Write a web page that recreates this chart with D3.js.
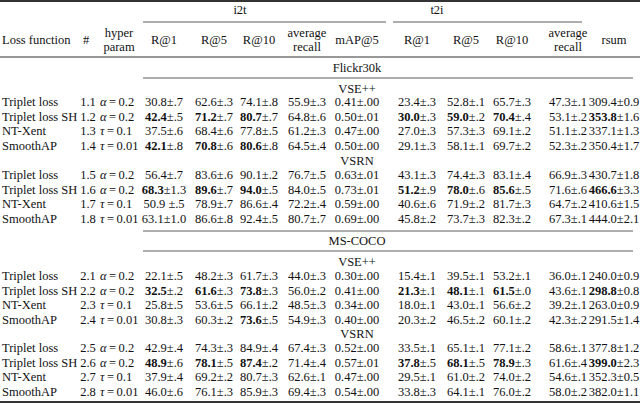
<!DOCTYPE html>
<html>
<head>
<meta charset="utf-8">
<script src="https://cdn.jsdelivr.net/npm/d3@7"></script>
<style>
  body { margin: 0; background: #fff; }
</style>
</head>
<body>
<svg id="table" width="640" height="404" font-family="'Liberation Serif', 'Times New Roman', 'DejaVu Serif', serif" font-size="12.5px" fill="#111"></svg>
<script>
// table data, "*" marks a bold leading number
const lossNames = ["Triplet loss", "Triplet loss SH", "NT-Xent", "SmoothAP"];
const runIds = ["1.1","1.2","1.3","1.4","1.5","1.6","1.7","1.8","2.1","2.2","2.3","2.4","2.5","2.6","2.7","2.8"];
const hyperSym = ["α", "α", "τ", "τ"];
const hyperVal = ["0.2", "0.2", "0.1", "0.01"];

const i2tR1 = ["30.8±.7","*42.4±.5","37.5±.6","*42.1±.8","56.4±.7","*68.3±1.3","50.9 ±.5","63.1±1.0","22.1±.5","*32.5±.2","25.8±.5","30.8±.3","42.9±.4","*48.9±.6","37.9±.4","46.0±.6"];
const i2tR5 = ["62.6±.3","*71.2±.7","68.4±.6","*70.8±.6","83.6±.6","*89.6±.7","78.9±.7","86.6±.8","48.2±.3","*61.6±.3","53.6±.5","60.3±.2","74.3±.3","*78.1±.5","69.2±.2","76.1±.3"];
const i2tR10 = ["74.1±.8","*80.7±.7","77.8±.5","*80.6±.8","90.1±.2","*94.0±.5","86.6±.4","92.4±.5","61.7±.3","*73.8±.3","66.1±.2","*73.6±.5","84.9±.4","*87.4±.2","80.7±.3","85.9±.3"];
const i2tAvg = ["55.9±.3","64.8±.6","61.2±.3","64.5±.4","76.7±.5","84.0±.5","72.2±.4","80.7±.7","44.0±.3","56.0±.2","48.5±.3","54.9±.3","67.4±.3","71.4±.4","62.6±.1","69.4±.3"];
const mapAt5 = ["0.41±.00","0.50±.01","0.47±.00","0.50±.00","0.63±.01","0.73±.01","0.59±.00","0.69±.00","0.30±.00","0.41±.00","0.34±.00","0.40±.00","0.52±.00","0.57±.01","0.47±.00","0.54±.00"];
const t2iR1 = ["23.4±.3","*30.0±.3","27.0±.3","29.1±.3","43.1±.3","*51.2±.9","40.6±.6","45.8±.2","15.4±.1","*21.3±.1","18.0±.1","20.3±.2","33.5±.1","*37.8±.5","29.5±.1","33.8±.3"];
const t2iR5 = ["52.8±.1","*59.0±.2","57.3±.3","58.1±.1","74.4±.3","*78.0±.6","71.9±.2","73.7±.3","39.5±.1","*48.1±.1","43.0±.1","46.5±.2","65.1±.1","*68.1±.5","61.0±.2","64.1±.1"];
const t2iR10 = ["65.7±.3","*70.4±.4","69.1±.2","69.7±.2","83.1±.4","*85.6±.5","81.7±.3","82.3±.2","53.2±.1","*61.5±.0","56.6±.2","60.1±.2","77.1±.2","*78.9±.3","74.0±.2","76.0±.2"];
const t2iAvg = ["47.3±.1","53.1±.2","51.1±.2","52.3±.2","66.9±.3","71.6±.6","64.7±.2","67.3±.1","36.0±.1","43.6±.1","39.2±.1","42.3±.2","58.6±.1","61.6±.4","54.6±.1","58.0±.2"];
const rsum = ["309.4±0.9","*353.8±1.6","337.1±1.3","350.4±1.7","430.7±1.8","*466.6±3.3","410.6±1.5","444.0±2.1","240.0±0.9","*298.8±0.8","263.0±0.9","291.5±1.4","377.8±1.2","*399.0±2.3","352.3±0.5","382.0±1.1"];

const colKeys = ["i2tR1","i2tR5","i2tR10","i2tAvg","mAP","t2iR1","t2iR5","t2iR10","t2iAvg","rsum"];
const colHeads = [["R@1"],["R@5"],["R@10"],["average","recall"],["mAP@5"],["R@1"],["R@5"],["R@10"],["average","recall"],["rsum"]];
const columns = [i2tR1, i2tR5, i2tR10, i2tAvg, mapAt5, t2iR1, t2iR5, t2iR10, t2iAvg, rsum];

const svg = d3.select("#table");
const x = d3.scaleOrdinal().domain(colKeys).range([164, 214, 259, 307, 357, 417, 466, 512, 568, 614]);

// row y: 16 data rows in 4 blocks of 4
const blockTop = [102, 175, 276, 348];
const rowY = i => blockTop[Math.floor(i / 4)] + (i % 4) * 14.6;

// rules
const rule = (x1, x2, y, w) => svg.append("line").attr("x1", x1).attr("x2", x2)
  .attr("y1", y).attr("y2", y).attr("stroke", "#333").attr("stroke-width", w);
rule(0, 640, 1, 2);
rule(143, 386, 22, 0.8);
rule(393, 582, 22, 0.8);
rule(0, 640, 57, 1);
rule(143, 633, 78, 0.8);
rule(143, 633, 231, 0.8);
rule(143, 633, 251, 0.8);
rule(0, 640, 402, 2);

// header
const head = (t, xx, y, anchor) => svg.append("text").attr("x", xx).attr("y", y)
  .attr("text-anchor", anchor || "middle").text(t);
head("i2t", 240, 14);
head("t2i", 437, 14);
head("Loss function", 2, 44, "start");
head("#", 86, 44);
head("hyper", 119, 37);
head("param", 119, 51);
colHeads.forEach((h, j) => {
  if (h.length === 1) head(h[0], x(colKeys[j]), 44);
  else { head(h[0], x(colKeys[j]), 37); head(h[1], x(colKeys[j]), 51); }
});
head("Flickr30k", 357, 72);
head("VSE++", 357, 93);
head("VSRN", 357, 165);
head("MS-COCO", 357, 245);
head("VSE++", 357, 266);
head("VSRN", 357, 338);

// body
d3.range(16).forEach(i => {
  const y = rowY(i) + 4;
  head(lossNames[i % 4], 2, y, "start");
  head(runIds[i], 88, y);
  const h = svg.append("text").attr("x", 100).attr("y", y);
  h.append("tspan").style("font-style", "italic").text(hyperSym[i % 4]);
  h.append("tspan").text("\u2009=\u2009" + hyperVal[i % 4]);
  columns.forEach((col, j) => {
    const v = col[i];
    const bold = v.startsWith("*");
    const s = bold ? v.slice(1) : v;
    const k = s.indexOf("±");
    const t = svg.append("text").attr("x", x(colKeys[j])).attr("y", y).attr("text-anchor", "middle");
    t.append("tspan").style("font-weight", bold ? "bold" : "normal").text(s.slice(0, k));
    t.append("tspan").text(s.slice(k));
  });
});
</script>
</body>
</html>
